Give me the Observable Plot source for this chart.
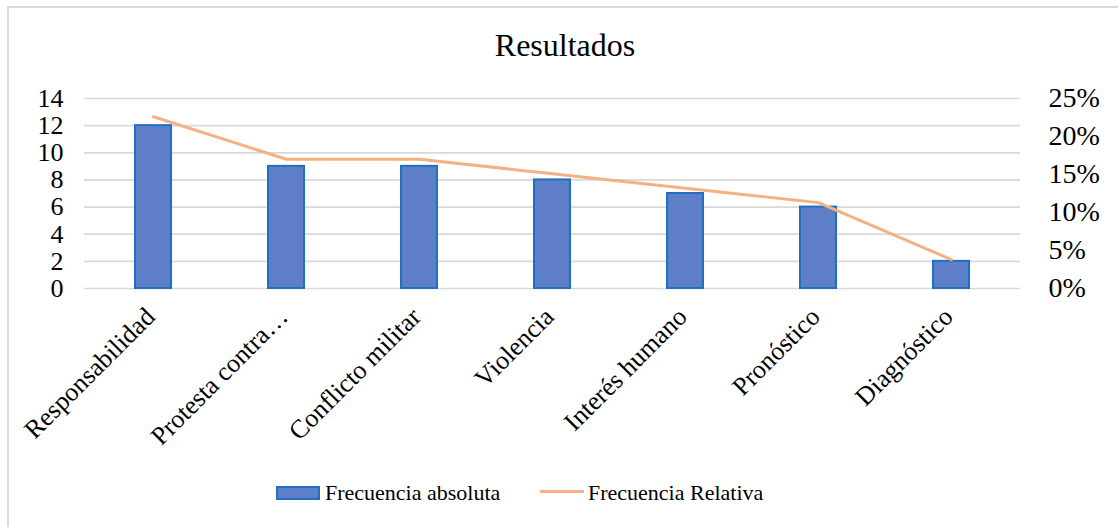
<!DOCTYPE html>
<html>
<head>
<meta charset="utf-8">
<script src="https://cdn.jsdelivr.net/npm/d3@7"></script>
<script src="https://cdn.jsdelivr.net/npm/@observablehq/plot@0.6"></script>
<style>
  html, body { margin: 0; padding: 0; background: #fff; }
  #wrap { position: relative; width: 1118px; height: 527px; overflow: hidden; background: #fff;
          font-family: "Liberation Serif", "Times New Roman", serif; color: #000; }
  #frame { position: absolute; left: 7px; top: 6px; width: 1300px; height: 700px; border: 2px solid #d9d9d9; box-sizing: border-box; }
  #title { position: absolute; left: 0; top: 29px; width: 1130px; text-align: center; font-size: 32px; line-height: 32px;
           font-family: "Liberation Serif", "Times New Roman", serif; }
  #chart { position: absolute; left: 0; top: 0; }
  #chart svg, #chart svg text { font-family: "Liberation Serif", "Times New Roman", serif !important; }
  .leg { position: absolute; font-size: 22px; line-height: 22px; white-space: nowrap;
         font-family: "Liberation Serif", "Times New Roman", serif !important; }
  .sw-bar { position: absolute; left: 276px; top: 486px; width: 44px; height: 14px; background: #5e7fc7; border: 2px solid #1f70c1; box-sizing: border-box; }
  .sw-line { position: absolute; left: 540px; top: 490px; width: 44px; height: 3px; background: #F4B183; }
</style>
</head>
<body>
<div id="wrap">
  <div id="frame"></div>
  <div id="title">Resultados</div>
  <div id="chart"></div>
  <div class="sw-bar"></div>
  <div class="leg" id="leg1" style="left:325px; top:482px;"></div>
  <div class="sw-line"></div>
  <div class="leg" id="leg2" style="left:588px; top:482px;"></div>
</div>
<script>
// ---- data ----
const categories = ["Responsabilidad", "Protesta contra…", "Conflicto militar", "Violencia", "Interés humano", "Pronóstico", "Diagnóstico"];
const frecuenciaAbsoluta = [12, 9, 9, 8, 7, 6, 2];
const frecuenciaRelativa = [22.6, 17.0, 17.0, 15.1, 13.2, 11.3, 3.8]; // percent
const leftTicks = [0, 2, 4, 6, 8, 10, 12, 14];
const rightTicks = [0, 5, 10, 15, 20, 25]; // percent
const seriesNames = ["Frecuencia absoluta", "Frecuencia Relativa"];

document.getElementById("leg1").textContent = seriesNames[0];
document.getElementById("leg2").textContent = seriesNames[1];

// right axis (0–25 %) shares the left axis range (0–14)
const k = leftTicks[leftTicks.length - 1] / rightTicks[rightTicks.length - 1];
const serif = "Liberation Serif";

const data = categories.map((c, i) => ({cat: c, abs: frecuenciaAbsoluta[i], rel: frecuenciaRelativa[i]}));

const chart = Plot.plot({
  width: 1118,
  height: 470,
  marginLeft: 84,
  marginRight: 98,
  marginTop: 98,
  marginBottom: 182,
  x: {domain: categories, paddingInner: 0.73, paddingOuter: 0.365, axis: null, label: null},
  y: {domain: [0, 14], axis: null, label: null},
  style: {fontFamily: serif, color: "#000", background: "transparent", overflow: "visible"},
  marks: [
    Plot.ruleY(leftTicks, {stroke: "#d9d9d9", strokeWidth: 1.7}),
    Plot.barY(data, {x: "cat", y: "abs", fill: "#5e7fc7", stroke: "#1f70c1", strokeWidth: 2}),
    Plot.line(data, {x: "cat", y: d => d.rel * k, stroke: "#F4B183", strokeWidth: 3}),
    Plot.axisY(leftTicks, {anchor: "left", tickSize: 0, tickPadding: 21, fontSize: 26, fontFamily: serif, label: null}),
    Plot.axisY(rightTicks.map(v => v * k), {anchor: "right", tickSize: 0, tickPadding: 28, fontSize: 28, fontFamily: serif, label: null,
      tickFormat: d => Math.round(d / k) + "%"}),
    Plot.axisX({tickRotate: -45, tickSize: 0, tickPadding: 24, dx: -3, fontSize: 26, fontFamily: serif, label: null})
  ]
});
document.getElementById("chart").appendChild(chart);
</script>
</body>
</html>
